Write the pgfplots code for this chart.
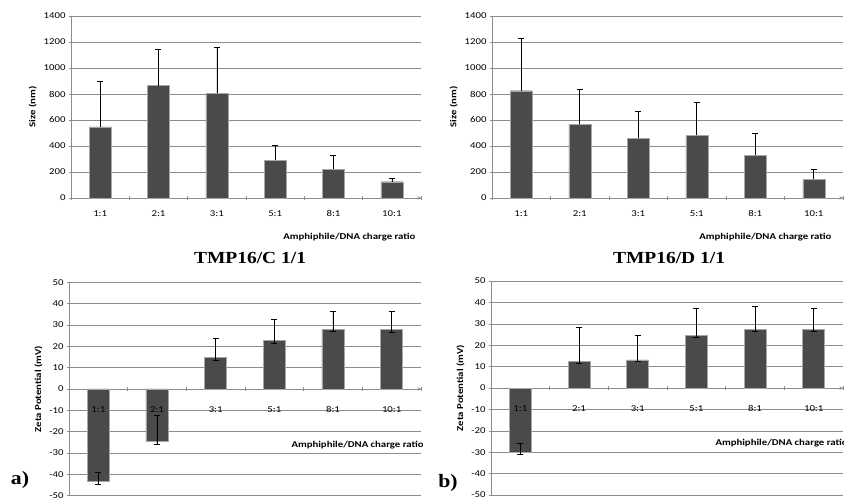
\documentclass[border=0pt]{standalone}
\usepackage{pgfplots}
\pgfplotsset{compat=1.18}
\usepackage{fontspec}
\setmainfont{Carlito}[FakeStretch=1.2]
\newfontfamily\titlefont{Liberation Serif}[FakeStretch=1.15]
\definecolor{barc}{HTML}{4A4A4A}
\definecolor{gridc}{HTML}{8C8C8C}
\pgfplotsset{
  panel/.style={
    scale only axis, anchor=south west,
    xmin=-0.5, xmax=5.5,
    xtick={0,...,5},
    xticklabels={1:1,2:1,3:1,5:1,8:1,10:1},
    minor xtick={-0.5,0.5,...,5.5},
    major tick length=4bp, minor tick length=4bp,
    major x tick style={draw=none},
    minor x tick style={draw=gridc, line width=0.6pt},
    ytick style={draw=gridc, line width=0.6pt},
    tick align=outside,
    ymajorgrids, major grid style={draw=gridc, line width=0.6pt},
    axis y line=left,
    axis line style={-, draw=gridc, line width=0.6pt},
    ticklabel style={font=\fontsize{9}{10}\selectfont},
    /pgf/number format/assume math mode=true,
    /pgf/number format/1000 sep={},
    ylabel style={font=\fontsize{9}{10}\selectfont\bfseries},
    bar width=22bp,
    clip=false,
  },
  labelsonly/.style={
    scale only axis, anchor=south west,
    xmin=-0.5, xmax=5.5, ymin=-50, ymax=50,
    xtick={0,...,5},
    xticklabels={1:1,2:1,3:1,5:1,8:1,10:1},
    ytick=\empty, hide y axis,
    axis x line=middle,
    axis line style={draw=none}, xtick style={draw=none},
    ticklabel style={font=\fontsize{9}{10}\selectfont},
    xticklabel style={anchor=base, yshift=-21bp},
  },
  barplot/.style={ybar, fill=barc, draw=gray!70, line width=0.4pt,
    error bars/.cd, y explicit, y dir=#1,
    error bar style={black, line width=0.6pt},
    error mark options={rotate=90, black, mark size=3bp, line width=0.6pt}},
}
\begin{document}
\begin{tikzpicture}
\useasboundingbox (0bp,0bp) rectangle (844bp,499bp);
% ---------------- top left
\begin{axis}[panel, at={(71bp,301bp)}, width=350bp, height=182bp,
  ymin=0, ymax=1400, ytick={0,200,...,1400},
  axis x line=bottom, xticklabel style={yshift=-7bp},
  ylabel={Size (nm)}]
\addplot[barplot=plus] coordinates {
 (0,548) +- (0,347)
 (1,864) +- (0,280)
 (2,805) +- (0,351)
 (3,292) +- (0,110)
 (4,223) +- (0,102)
 (5,125) +- (0,23)
};
\end{axis}
\node[anchor=east, font=\fontsize{9}{10}\selectfont\bfseries] at (419bp,262bp) {Amphiphile/DNA charge ratio};
% ---------------- top right
\begin{axis}[panel, at={(492bp,301bp)}, width=351bp, height=182bp,
  ymin=0, ymax=1400, ytick={0,200,...,1400},
  axis x line=bottom, xticklabel style={yshift=-7bp},
  ylabel={Size (nm)}]
\addplot[barplot=plus] coordinates {
 (0,825) +- (0,403)
 (1,567) +- (0,266)
 (2,459) +- (0,206)
 (3,482) +- (0,256)
 (4,330) +- (0,170)
 (5,145) +- (0,72)
};
\end{axis}
\node[anchor=east, font=\fontsize{9}{10}\selectfont\bfseries] at (835bp,262bp) {Amphiphile/DNA charge ratio};
% ---------------- titles
\node[font=\titlefont\fontsize{17}{19}\selectfont\bfseries] at (250bp,241bp) {TMP16/C 1/1};
\node[font=\titlefont\fontsize{17}{19}\selectfont\bfseries] at (669bp,241bp) {TMP16/D 1/1};
% ---------------- bottom left
\begin{axis}[panel, at={(69bp,3.3bp)}, width=352bp, height=213.4bp,
  ymin=-50, ymax=50, ytick={-50,-40,...,50},
  axis x line=middle, xticklabels={},
  ylabel={Zeta Potential (mV)}]
\addplot[barplot=both] coordinates {
 (0,-43.1) += (0,3.9) -= (0,1.4)
 (1,-24.4) += (0,12.2) -= (0,1.4)
 (2,14.7) += (0,9.0) -= (0,1.1)
 (3,22.7) += (0,10.0) -= (0,1.3)
 (4,28.0) += (0,8.2) -= (0,1.1)
 (5,28.0) += (0,8.2) -= (0,1.4)
};
\end{axis}
\begin{axis}[labelsonly, at={(69bp,3.3bp)}, width=352bp, height=213.4bp]
\addplot[draw=none] coordinates {(0,0)};
\end{axis}
\begin{scope}
\clip (0bp,0bp) rectangle (422bp,499bp);
\node[anchor=west, font=\fontsize{9}{10}\selectfont\bfseries] at (288bp,54bp) {Amphiphile/DNA charge ratio};
\end{scope}
% ---------------- bottom right
\begin{axis}[panel, at={(491bp,4bp)}, width=352bp, height=214bp,
  ymin=-50, ymax=50, ytick={-50,-40,...,50},
  axis x line=middle, xticklabels={},
  ylabel={Zeta Potential (mV)}]
\addplot[barplot=both] coordinates {
 (0,-29.9) += (0,3.9) -= (0,1.1)
 (1,12.5) += (0,15.7) -= (0,1.1)
 (2,13.2) += (0,11.2) -= (0,0.7)
 (3,24.6) += (0,12.8) -= (0,0.8)
 (4,27.4) += (0,10.7) -= (0,0.9)
 (5,27.4) += (0,10.0) -= (0,0.9)
};
\end{axis}
\begin{axis}[labelsonly, at={(491bp,4bp)}, width=352bp, height=214bp]
\addplot[draw=none] coordinates {(0,0)};
\end{axis}
\node[anchor=west, font=\fontsize{9}{10}\selectfont\bfseries] at (712bp,56bp) {Amphiphile/DNA charge ratio};
% ---------------- panel letters
\node[font=\titlefont\fontsize{19}{21}\selectfont\bfseries] at (20bp,19bp) {a)};
\node[font=\titlefont\fontsize{19}{21}\selectfont\bfseries] at (448bp,16bp) {b)};
\end{tikzpicture}
\end{document}
